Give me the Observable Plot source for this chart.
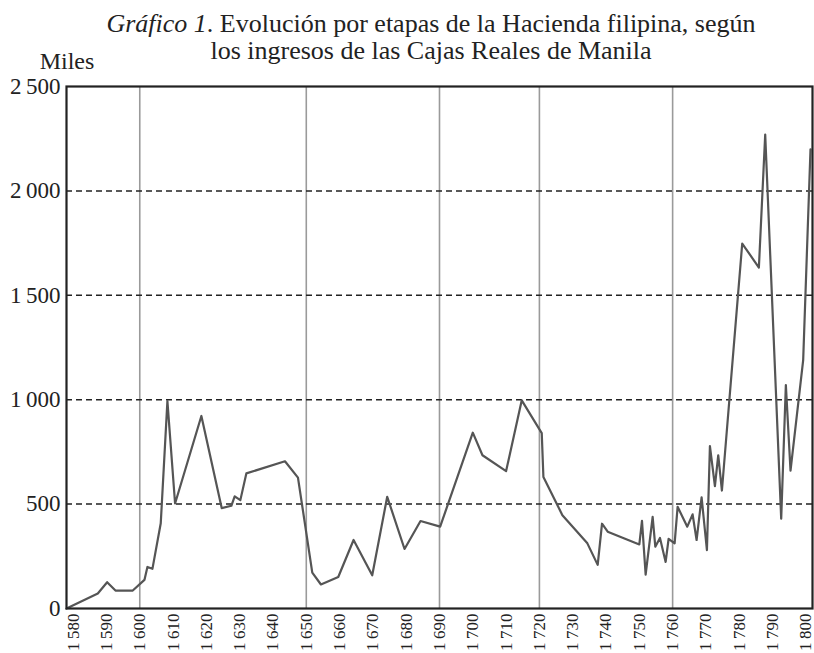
<!DOCTYPE html>
<html>
<head>
<meta charset="utf-8">
<script src="https://cdn.jsdelivr.net/npm/d3@7"></script>
<script src="https://cdn.jsdelivr.net/npm/@observablehq/plot@0.6"></script>
<style>
  html, body { margin: 0; padding: 0; background: #fff; }
  #chart { width: 814px; height: 653px; overflow: hidden; }
  #chart svg, #chart svg text { font-family: "Liberation Serif", "Times New Roman", serif; }
</style>
</head>
<body>
<div id="chart"></div>
<script>
// Ingresos de las Cajas Reales de Manila (miles)
const years = [1578, 1587.4, 1590.2, 1592.7, 1597.9, 1601.4, 1602.3, 1603.8, 1606.3, 1608.3,
  1610.6, 1618.5, 1624.6, 1627.5, 1628.5, 1630.2, 1632, 1643.6, 1647.5, 1651.8,
  1654.4, 1659.6, 1664.2, 1669.8, 1674.3, 1679.5, 1684.3, 1690.2, 1700, 1702.9,
  1710, 1714.7, 1720.7, 1721.2, 1726.9, 1734.4, 1737.5, 1738.8, 1740.5, 1750,
  1750.8, 1751.9, 1754, 1754.8, 1756.2, 1757.9, 1758.8, 1760.6, 1761.5, 1764.4,
  1766, 1767.2, 1768.7, 1770.3, 1771.2, 1772.7, 1773.7, 1774.8, 1780.9, 1785.9,
  1787.8, 1792.6, 1794, 1795.4, 1799.2, 1801.4];
const ingresos = [0, 72, 126, 86, 86, 137, 199, 190, 408, 993,
  503, 922, 481, 492, 537, 519, 647, 705, 627, 172,
  115, 151, 328, 159, 535, 285, 419, 392, 842, 734,
  658, 997, 840, 630, 447, 312, 209, 406, 368, 307,
  420, 162, 439, 296, 338, 223, 334, 312, 487, 392,
  451, 328, 532, 280, 778, 586, 734, 565, 1748, 1633,
  2270, 430, 1070, 660, 1190, 2199];
const etapas = [1600, 1650, 1690, 1720, 1760];
const gridValues = [500, 1000, 1500, 2000];
const yTicks = [0, 500, 1000, 1500, 2000, 2500];
const xTicks = [1580, 1590, 1600, 1610, 1620, 1630, 1640, 1650, 1660, 1670, 1680, 1690,
  1700, 1710, 1720, 1730, 1740, 1750, 1760, 1770, 1780, 1790, 1800];
const titleItalic = "Gráfico 1";
const titleLine1 = ". Evolución por etapas de la Hacienda filipina, según";
const titleLine2 = "los ingresos de las Cajas Reales de Manila";
const yUnit = "Miles";

const data = years.map((y, i) => ({year: y, value: ingresos[i]}));
const fmt = d => d >= 1000 ? Math.floor(d / 1000) + "\u2009" + String(d % 1000).padStart(3, "0") : String(d);
const FONT = "Liberation Serif";
const INK = "#222";

const svg = Plot.plot({
  width: 814,
  height: 653,
  marginTop: 86,
  marginLeft: 66,
  marginRight: 2,
  marginBottom: 45,
  style: {background: "#fff", overflow: "visible"},
  x: {domain: [1578, 1802]},
  y: {domain: [0, 2500]},
  marks: [
    Plot.ruleX(etapas, {stroke: "#9a9a9a", strokeWidth: 1.6}),
    Plot.ruleY(gridValues, {stroke: INK, strokeWidth: 1.5, strokeDasharray: "6,4"}),
    Plot.line(data, {x: "year", y: "value", stroke: "#555", strokeWidth: 2.2}),
    Plot.frame({stroke: INK, strokeWidth: 2.2}),
    Plot.axisY({ticks: yTicks, tickFormat: fmt, tickSize: 0, tickPadding: 6, fontSize: 23, fontFamily: FONT, fill: INK, label: null}),
    Plot.axisX({ticks: xTicks, tickFormat: fmt, tickSize: 0, tickPadding: 5, tickRotate: -90, fontSize: 17, fontFamily: FONT, fill: INK, label: null})
  ]
});
svg.setAttribute("font-family", FONT);

const s = d3.select(svg);
const t1 = s.append("text")
  .attr("x", 431).attr("y", 32)
  .attr("text-anchor", "middle")
  .attr("font-family", FONT).attr("font-size", 26).attr("fill", INK);
t1.append("tspan").attr("font-style", "italic").text(titleItalic);
t1.append("tspan").text(titleLine1);
s.append("text")
  .attr("x", 431).attr("y", 59)
  .attr("text-anchor", "middle")
  .attr("font-family", FONT).attr("font-size", 26).attr("fill", INK)
  .text(titleLine2);
s.append("text")
  .attr("x", 67).attr("y", 69)
  .attr("text-anchor", "middle")
  .attr("font-family", FONT).attr("font-size", 24).attr("fill", INK)
  .text(yUnit);

document.getElementById("chart").appendChild(svg);
</script>
</body>
</html>
